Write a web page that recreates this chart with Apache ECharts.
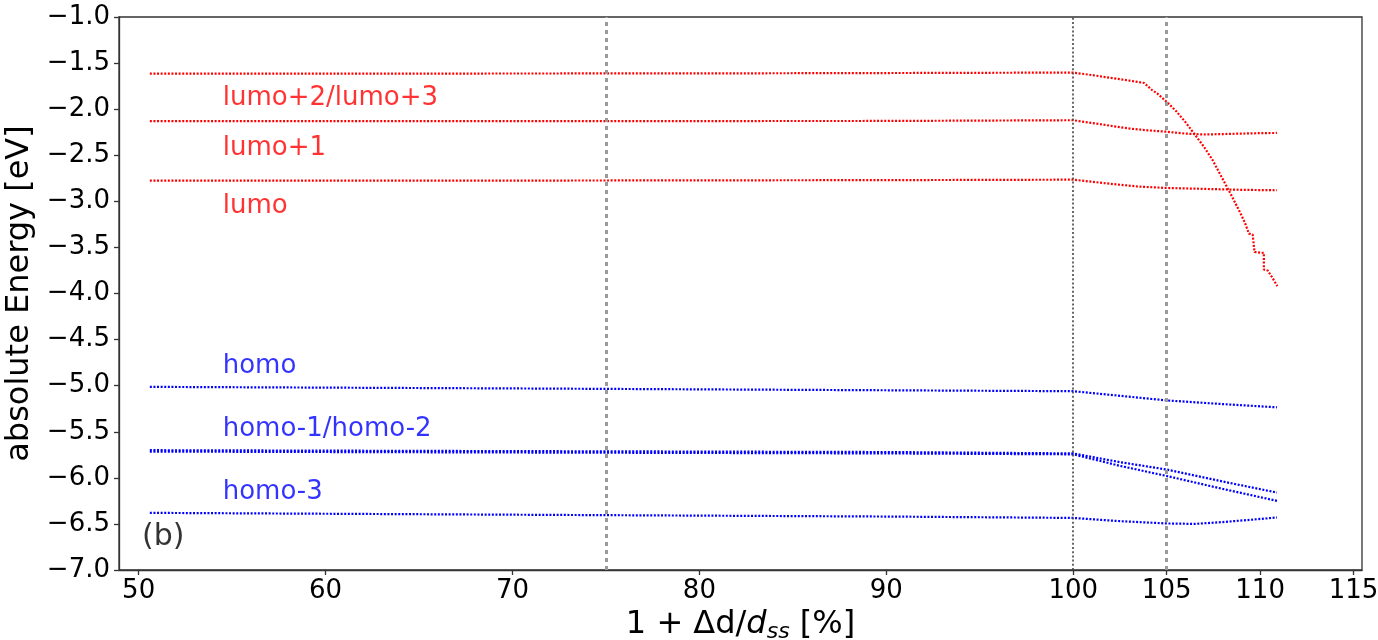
<!DOCTYPE html>
<html>
<head>
<meta charset="utf-8">
<title>Orbital energies vs. strain</title>
<script src="https://cdn.jsdelivr.net/npm/echarts@6/dist/echarts.min.js"></script>
<style>
  html, body { margin: 0; padding: 0; background: #fff; }
  #chart { width: 1378px; height: 640px; }
</style>
</head>
<body>
<div id="chart"></div>
<script>
// Orbital energies [eV] against relative distance 1 + Δd/d_ss [%]
const lumo23 = [
  [50.6, -1.615], [60, -1.615], [70, -1.613], [80, -1.612], [90, -1.608], [100, -1.603],
  [101, -1.63], [102, -1.66], [103, -1.69], [103.8, -1.716], [104.2, -1.79], [104.5, -1.83],
  [105, -1.92], [105.5, -2.02], [106, -2.14], [106.45, -2.26], [107, -2.41], [107.45, -2.55],
  [107.95, -2.74], [108.45, -2.93], [108.95, -3.13], [109.2, -3.24], [109.4, -3.35],
  [109.6, -3.36], [109.7, -3.55], [110.2, -3.56], [110.2, -3.74], [110.4, -3.75],
  [110.66, -3.83], [110.92, -3.92]
];
const lumo1 = [
  [50.6, -2.13], [70, -2.13], [90, -2.128], [100, -2.12], [101, -2.15], [102, -2.18],
  [103, -2.21], [104, -2.23], [105, -2.245], [106, -2.265], [107, -2.275], [108, -2.27],
  [109, -2.265], [110, -2.26], [110.9, -2.258]
];
const lumo = [
  [50.6, -2.775], [70, -2.775], [90, -2.77], [100, -2.765], [102, -2.81], [103.5, -2.84],
  [105, -2.855], [107, -2.865], [109, -2.875], [110.9, -2.88]
];
const homo = [
  [50.6, -5.013], [70, -5.03], [90, -5.05], [100, -5.06], [102.5, -5.11], [105, -5.16],
  [108, -5.2], [110.9, -5.235]
];
const homo1 = [
  [50.6, -5.70], [70, -5.71], [90, -5.72], [100, -5.735], [102.5, -5.83], [105, -5.91],
  [108, -6.04], [110.9, -6.16]
];
const homo2 = [
  [50.6, -5.715], [70, -5.725], [90, -5.735], [100, -5.745], [102.5, -5.87], [105, -5.98],
  [108, -6.12], [110.9, -6.25]
];
const homo3 = [
  [50.6, -6.38], [70, -6.40], [90, -6.42], [100, -6.435], [102.5, -6.47], [105, -6.495],
  [106.5, -6.50], [108, -6.48], [109.5, -6.455], [110.9, -6.43]
];

const xTicks = [50, 60, 70, 80, 90, 100, 105, 110, 115];
const markers = [75, 100, 105];

// level names placed next to their curves (left edge x, centre y)
const levelLabels = [
  { x: 54.5, y: -1.88, text: 'lumo+2/lumo+3', color: '#ff0000' },
  { x: 54.5, y: -2.42, text: 'lumo+1', color: '#ff0000' },
  { x: 54.5, y: -3.05, text: 'lumo', color: '#ff0000' },
  { x: 54.5, y: -4.79, text: 'homo', color: '#0000ff' },
  { x: 54.5, y: -5.47, text: 'homo-1/homo-2', color: '#0000ff' },
  { x: 54.5, y: -6.16, text: 'homo-3', color: '#0000ff' },
  { x: 50.18, y: -6.645, text: '(b)', color: '#000000', size: 30 }
];

const FONT = 'DejaVu Sans';
const fmtMinus = v => (v < 0 ? '\u2212' : '') + Math.abs(v).toFixed(1);

function levelSeries(data, color) {
  return {
    type: 'line',
    data: data,
    showSymbol: false,
    silent: true,
    lineStyle: { color: color, width: 2.2, type: [2, 1.6] },
    z: 3
  };
}

const chart = echarts.init(document.getElementById('chart'), null, { renderer: 'canvas' });

const option = {
  animation: false,
  backgroundColor: '#ffffff',
  grid: {
    left: 119, right: 16, top: 17, bottom: 70,
    outerBoundsMode: 'none',
    containLabel: false,
    show: true, borderColor: '#333333', borderWidth: 1.3, backgroundColor: 'transparent'
  },
  xAxis: {
    type: 'value',
    min: 48.95,
    max: 115.45,
    name: '1 + \u0394d/{i|d}{s|ss} [%]',
    nameLocation: 'middle',
    nameGap: 37,
    nameTextStyle: {
      fontFamily: FONT, fontSize: 32, color: '#000',
      rich: {
        i: { fontFamily: FONT, fontSize: 32, fontStyle: 'italic', color: '#000' },
        s: { fontFamily: FONT, fontSize: 22, fontStyle: 'italic', color: '#000', verticalAlign: 'bottom', padding: [14, 0, 0, 0] }
      }
    },
    axisLine: { show: true, lineStyle: { color: '#333333', width: 1.3 } },
    axisTick: { show: true, length: 5, inside: false, customValues: xTicks, lineStyle: { color: '#333333', width: 1.3 } },
    axisLabel: {
      customValues: xTicks,
      margin: 8,
      fontFamily: FONT, fontSize: 26, color: '#000',
      formatter: v => String(v)
    },
    splitLine: { show: false }
  },
  yAxis: {
    type: 'value',
    min: -7,
    max: -1,
    interval: 0.5,
    name: 'absolute Energy [eV]',
    nameLocation: 'middle',
    nameGap: 72,
    nameTextStyle: { fontFamily: FONT, fontSize: 32, color: '#000' },
    axisLine: { show: true, lineStyle: { color: '#333333', width: 1.3 } },
    axisTick: { show: true, length: 5, inside: false, lineStyle: { color: '#333333', width: 1.3 } },
    axisLabel: { margin: 9, fontFamily: FONT, fontSize: 26, color: '#000', formatter: fmtMinus },
    splitLine: { show: false }
  },
  series: [
    {
      type: 'line',
      data: [],
      silent: true,
      markLine: {
        silent: true,
        symbol: 'none',
        label: { show: false },
        data: markers.map(v => ({
          xAxis: v,
          lineStyle: v === 100
            ? { color: '#444444', width: 1.6, type: [2, 2.2] }
            : { color: '#9a9a9a', width: 3, type: [4, 4] }
        }))
      },
      z: 2
    },
    levelSeries(lumo23, '#ff0000'),
    levelSeries(lumo1, '#ff0000'),
    levelSeries(lumo, '#ff0000'),
    levelSeries(homo, '#0000ff'),
    levelSeries(homo1, '#0000ff'),
    levelSeries(homo2, '#0000ff'),
    levelSeries(homo3, '#0000ff'),
    {
      type: 'scatter',
      silent: true,
      symbolSize: 0,
      data: levelLabels.map(d => ({
        value: [d.x, d.y],
        label: {
          show: true,
          position: [0, 0],
          align: 'left',
          verticalAlign: 'middle',
          formatter: d.text,
          fontFamily: FONT,
          fontSize: d.size || 26,
          color: d.color
        }
      })),
      z: 5
    }
  ]
};

chart.setOption(option);
</script>
</body>
</html>
